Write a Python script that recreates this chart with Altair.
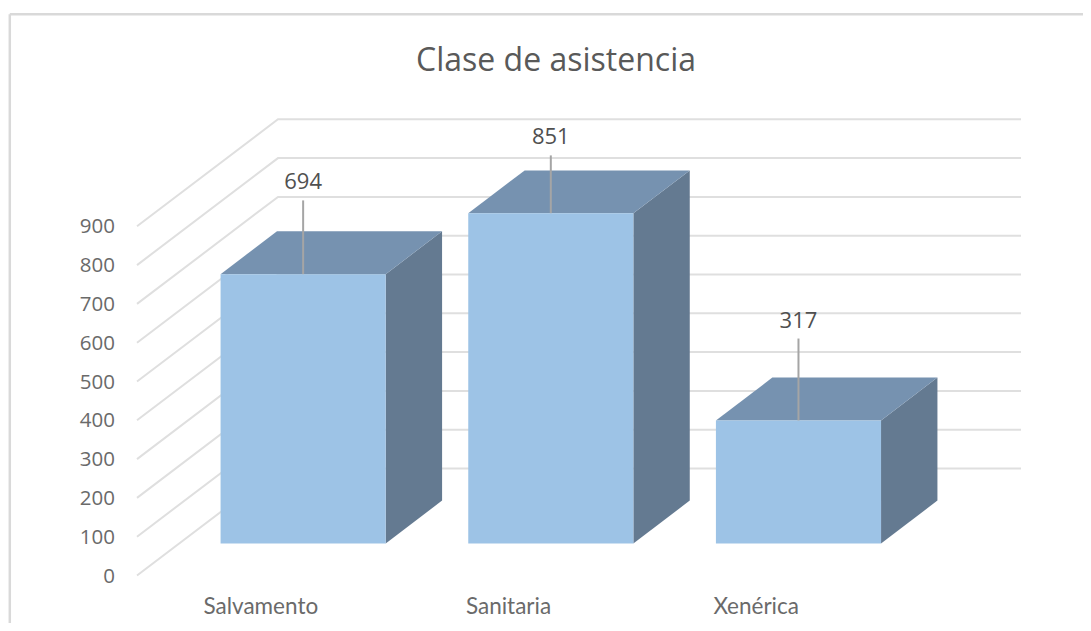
import altair as alt
import pandas as pd

# ---- values ----
categories = ["Salvamento", "Sanitaria", "Xenérica"]
values = [694, 851, 317]
label_tops = [884, 1000, 528]   # data-label leader ends, in axis units
ticks = [0, 100, 200, 300, 400, 500, 600, 700, 800, 900]
chart_title = "Clase de asistencia"

# ---- 3D projection of the chart's box ----
W, H = 1075, 615
PX_CAT = 247.67          # pixels per category
PX_UNIT = 0.388          # pixels per value unit
ORIGIN_X, ORIGIN_Y = 278, 468.5   # page position of back-floor corner
DX = 141 / PX_CAT        # shift of full depth, in category units
DY = 107 / PX_UNIT       # shift of full depth, in value units
D_BACK, D_FRONT = 0.30, 0.70    # depth span of the bars
GAP = 1 / 6

xdom = [(8 - ORIGIN_X) / PX_CAT, (8 + W - ORIGIN_X) / PX_CAT]
ydom = [(ORIGIN_Y - 8 - H) / PX_UNIT, (ORIGIN_Y - 8) / PX_UNIT]
xs = alt.Scale(domain=xdom, range=[0, W], nice=False, zero=False)
ys = alt.Scale(domain=ydom, range=[H, 0], nice=False, zero=False)

def px(u, d):
    return u - DX * d

def py(v, d):
    return v - DY * d

X = lambda f="x": alt.X(f"{f}:Q", scale=xs, axis=None)
Y = lambda f="y": alt.Y(f"{f}:Q", scale=ys, axis=None)

# grid lines: wall then back plane
grid_rows = []
for t in ticks:
    for k, (u, d) in enumerate([(0, 1), (0, 0), (3, 0)]):
        grid_rows.append({"t": t, "k": k, "x": px(u, d), "y": py(t, d)})
grid = alt.Chart(pd.DataFrame(grid_rows)).mark_line(
    color="#DFDFDF", strokeWidth=2, interpolate="linear"
).encode(x=X(), y=Y(), detail="t:N", order="k:Q")

front_rows, top_rows, side_rows, rule_rows, lab_rows = [], [], [], [], []
for i, (c, v, lt) in enumerate(zip(categories, values, label_tops)):
    u0, u1 = i + GAP, i + 1 - GAP
    front_rows.append({"c": c, "x": px(u0, D_FRONT), "x2": px(u1, D_FRONT),
                       "y": py(v, D_FRONT), "y2": py(0, D_FRONT)})
    lf, lb, rf, rb = px(u0, D_FRONT), px(u0, D_BACK), px(u1, D_FRONT), px(u1, D_BACK)
    tf, tb = py(v, D_FRONT), py(v, D_BACK)
    for xx, hi, lo in [(lf, tf, tf), (lb, tb, tf), (rf, tb, tf), (rb, tb, tb)]:
        top_rows.append({"c": c, "x": xx, "y": hi, "y2": lo})
    side_rows.append({"c": c, "x": rf, "y": tf, "y2": py(0, D_FRONT)})
    side_rows.append({"c": c, "x": rb, "y": tb, "y2": py(0, D_BACK)})
    xc = px(i + 0.5, D_FRONT)
    rule_rows.append({"x": xc, "y": tf, "y2": py(lt, D_FRONT)})
    lab_rows.append({"x": xc, "y": py(lt, D_FRONT), "v": str(v)})

front = alt.Chart(pd.DataFrame(front_rows)).mark_rect(color="#9DC3E6").encode(
    x=X(), x2="x2:Q", y=Y(), y2="y2:Q")
top = alt.Chart(pd.DataFrame(top_rows)).mark_area(color="#7692B0", orient="vertical").encode(
    x=X(), y=Y(), y2="y2:Q", detail="c:N")
side = alt.Chart(pd.DataFrame(side_rows)).mark_area(color="#647A91", orient="vertical").encode(
    x=X(), y=Y(), y2="y2:Q", detail="c:N")
leaders = alt.Chart(pd.DataFrame(rule_rows)).mark_rule(color="#A5A5A5", strokeWidth=2).encode(
    x=X(), y=Y(), y2="y2:Q")
data_labels = alt.Chart(pd.DataFrame(lab_rows)).mark_text(
    font="Open Sans", fontSize=22, color="#505050", baseline="middle", dy=-18
).encode(x=X(), y=Y(), text="v:N")

tick_df = pd.DataFrame({"x": [px(0, 1)] * len(ticks), "y": [py(t, 1) for t in ticks],
                        "t": [str(t) for t in ticks]})
tick_labels = alt.Chart(tick_df).mark_text(
    font="Open Sans", fontSize=20.5, color="#6A6A6A", align="right", baseline="middle", dx=-22, dy=1
).encode(x=X(), y=Y(), text="t:N")

cat_df = pd.DataFrame({"x": [px(i + 0.5, 1) for i in range(3)], "y": [py(0, 1)] * 3, "c": categories})
cat_labels = alt.Chart(cat_df).mark_text(
    font="Lato", fontSize=22.5, color="#6A6A6A", align="center", baseline="middle", dy=31
).encode(x=X(), y=Y(), text="c:N")

frame_top = alt.Chart(pd.DataFrame({"a": [0]})).mark_rule(color="#D9D9D9", strokeWidth=2.5).encode(
    x=alt.value(1.8), x2=alt.value(W), y=alt.value(6.3))
frame_left = alt.Chart(pd.DataFrame({"a": [0]})).mark_rule(color="#D9D9D9", strokeWidth=2.5).encode(
    x=alt.value(1.8), y=alt.value(6.3), y2=alt.value(H))

chart = alt.layer(
    frame_top, frame_left, grid, side, top, front, leaders, data_labels, tick_labels, cat_labels
).properties(
    width=W, height=H, padding=0,
    autosize=alt.AutoSizeParams(type="none"),
    title=alt.TitleParams(chart_title, font="Open Sans", fontSize=32, fontWeight="normal",
                          color="#595959", anchor="middle", baseline="middle", dx=10.5, dy=85, offset=0),
).configure_view(stroke=None)

chart.save("out.html", embed_options={"renderer": "svg", "actions": False})
